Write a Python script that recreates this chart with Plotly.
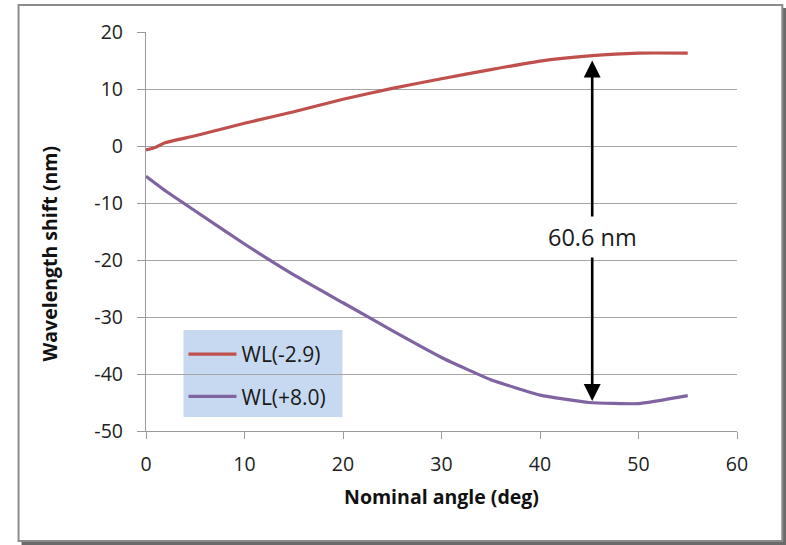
import plotly.graph_objects as go

angle_red = [0, 1, 2, 5, 10, 15, 20, 25, 30, 35, 40, 45, 50, 55]
wl_red = [-0.7, -0.2, 0.6, 1.8, 4.0, 6.0, 8.2, 10.1, 11.8, 13.4, 14.9, 15.8, 16.3, 16.3]
angle_pur = [0, 2, 5, 10, 15, 20, 25, 30, 35, 40, 45, 50, 55]
wl_pur = [-5.3, -7.9, -11.4, -17.2, -22.6, -27.5, -32.4, -37.1, -41.0, -43.7, -45.0, -45.2, -43.8]
series_names = ["WL(-2.9)", "WL(+8.0)"]
x_ticks = [0, 10, 20, 30, 40, 50, 60]
y_ticks = [-50, -40, -30, -20, -10, 0, 10, 20]
y_ticklabels = ["-50", "-40", "-30", "-20", "-10", "0", "10", "20"]
x_title = "Nominal angle (deg)"
y_title = "Wavelength shift (nm)"
arrow_x = 45.3
arrow_top = 15.0
arrow_bottom = -45.0
arrow_label = "60.6 nm"

W, H = 786, 545
L, R, T, B = 145.5, 49.3, 32, 114
pw, ph = W - L - R, H - T - B

def px(x):
    return (x - L) / pw

def py(y):
    return (H - B - y) / ph

font = "'Open Sans', sans-serif"

fig = go.Figure()
fig.add_trace(go.Scatter(x=angle_red, y=wl_red, mode="lines", name=series_names[0], legendgroup="a",
                         line=dict(color="#C0504D", width=3.2, shape="spline", smoothing=0.4)))
fig.add_trace(go.Scatter(x=angle_pur, y=wl_pur, mode="lines", name=series_names[1], legendgroup="b",
                         line=dict(color="#8064A2", width=3.2, shape="spline", smoothing=0.4)))

shapes = [
    dict(type="rect", xref="paper", yref="paper", x0=px(21), x1=px(786), y0=py(545), y1=py(8),
         fillcolor="#6a6a6a", line=dict(width=0), layer="below"),
    dict(type="rect", xref="paper", yref="paper", x0=px(18), x1=px(782), y0=py(541), y1=py(5),
         fillcolor="white", line=dict(color="#8c8c8c", width=2), layer="below"),
    dict(type="rect", xref="paper", yref="paper", x0=px(183), x1=px(342), y0=py(417), y1=py(330),
         fillcolor="#C6D9F1", line=dict(width=0), layer="between"),
]

annotations = [
    dict(x=arrow_x, y=arrow_top, ax=arrow_x, ay=arrow_bottom, xref="x", yref="y",
         axref="x", ayref="y", text="", showarrow=True, arrowhead=2, arrowside="end+start",
         arrowsize=1.3, arrowwidth=2.6, arrowcolor="black"),
    dict(x=arrow_x, y=-15.9, xref="x", yref="y", text=arrow_label, showarrow=False,
         font=dict(family=font, size=23.5, color="#1a1a1a"), bgcolor="white", borderpad=4),
    dict(x=px(48), y=py(254), xref="paper", yref="paper", text="<b>" + y_title + "</b>",
         textangle=-90, showarrow=False, xanchor="center", yanchor="middle",
         font=dict(family=font, size=19.5, color="#111")),
]

fig.update_layout(
    width=W, height=H,
    margin=dict(l=L, r=R, t=T, b=B, pad=0),
    paper_bgcolor="white", plot_bgcolor="rgba(0,0,0,0)",
    font=dict(family=font, color="#222222"),
    shapes=shapes, annotations=annotations,
    showlegend=True,
    legend=dict(x=px(183), y=py(334), xanchor="left", yanchor="top",
                bgcolor="rgba(0,0,0,0)", borderwidth=0, font=dict(family=font, size=21, color="#1a1a1a"),
                itemwidth=48, tracegroupgap=12, indentation=0),
    xaxis=dict(range=[0, 60], tickvals=x_ticks, showgrid=False,
               showline=True, linecolor="#9a9a9a", linewidth=1.3, ticks="outside", ticklen=7,
               tickcolor="#9a9a9a", tickfont=dict(size=19.5, color="#222"), zeroline=False,
               ticklabelstandoff=8,
               title=dict(text="<b>" + x_title + "</b>", font=dict(size=19.5, color="#111"), standoff=14)),
    yaxis=dict(range=[-50, 20], tickvals=y_ticks, ticktext=y_ticklabels, showgrid=True,
               gridcolor="#a6a6a6", gridwidth=1.2, showline=True, linecolor="#9a9a9a", linewidth=1.3,
               ticks="outside", ticklen=8, tickcolor="#9a9a9a", tickfont=dict(size=19.5, color="#222"),
               zeroline=False, ticklabelstandoff=10),
)
fig.write_html("out.html", config={"displayModeBar": False},
               post_script="document.body.style.margin='0px';")
